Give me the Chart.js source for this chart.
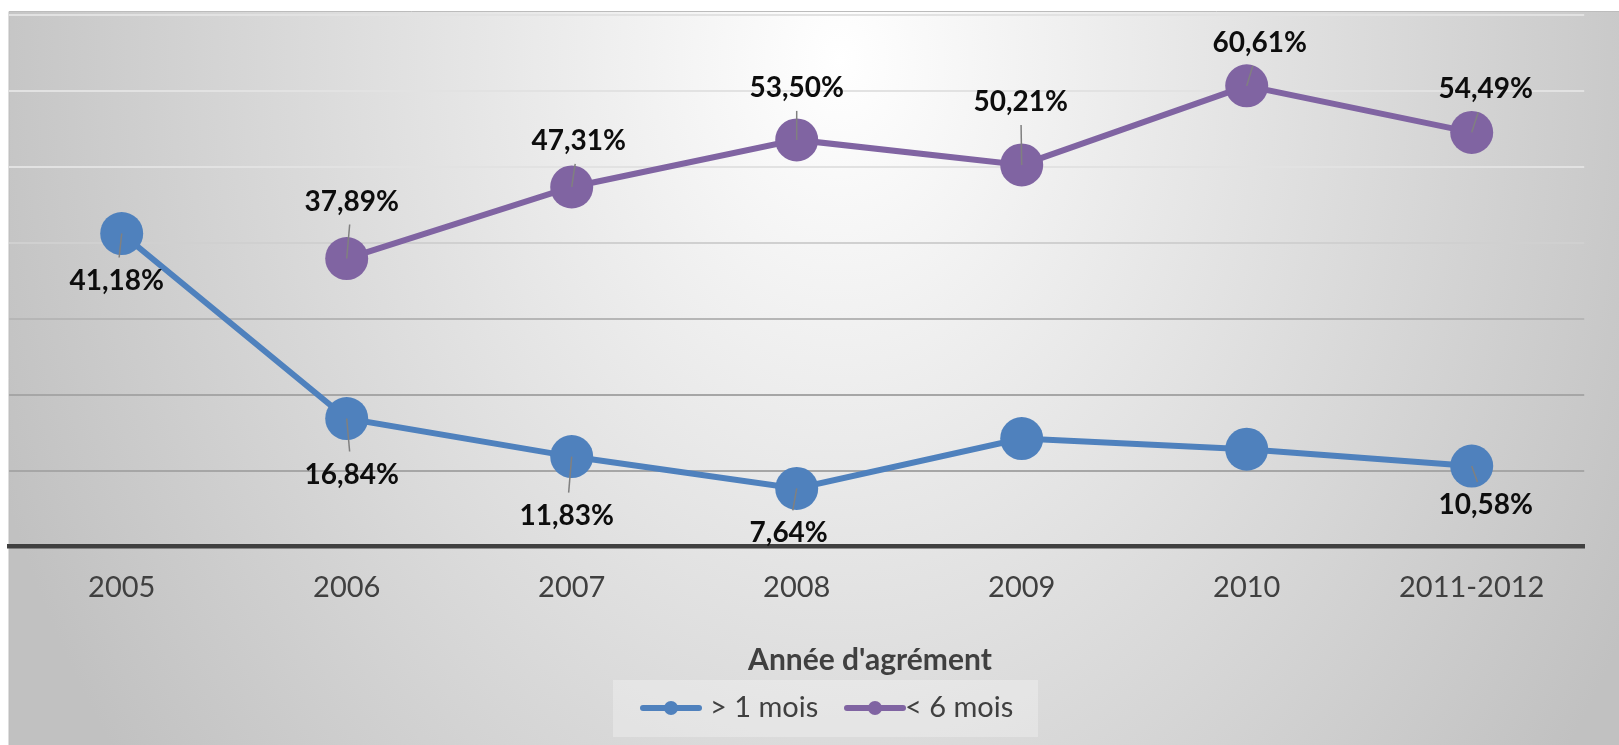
<!DOCTYPE html>
<html>
<head>
<meta charset="utf-8">
<script src="https://cdn.jsdelivr.net/npm/chart.js@4.4.0/dist/chart.umd.min.js"></script>
<style>
html,body{margin:0;padding:0;background:#fff;}
#wrap{width:1619px;height:745px;position:relative;}
</style>
</head>
<body>
<div id="wrap"><canvas id="c" width="1619" height="745"></canvas></div>
<script>
// ---- data ----
const categories = ['2005', '2006', '2007', '2008', '2009', '2010', '2011-2012'];
const seriesNames = ['> 1 mois', '< 6 mois'];
const plusUnMois = [41.18, 16.84, 11.83, 7.64, 14.2, 12.8, 10.58];
const moinsSixMois = [null, 37.89, 47.31, 53.50, 50.21, 60.61, 54.49];
const showLabelPlusUn = [true, true, true, true, false, false, true];
const showLabelMoinsSix = [false, true, true, true, true, true, true];
const yTickValues = [0, 10, 20, 30, 40, 50, 60, 70];
const xAxisTitle = "Année d'agrément";

// ---- style ----
const BLUE = '#4f81bd';
const PURPLE = '#8064a2';
const TEXT = '#404040';
// label placement relative to each point (dx, dy) in px
const labelOffsets = [
  [[-5, 47], [5, 56], [-5, 59], [-8, 45], null, null, [14, 39]],
  [null, [5, -57], [7, -46], [0, -52], [-1, -63], [13, -43], [14, -43]]
];

function fmt(v) { return v.toFixed(2).replace('.', ',') + '%'; }

const bgPlugin = {
  id: 'bg',
  beforeDraw(chart) {
    const ctx = chart.ctx, W = chart.width, H = chart.height;
    ctx.save();
    ctx.fillStyle = '#ffffff';
    ctx.fillRect(0, 0, W, H);
    ctx.beginPath(); ctx.rect(9, 11, W - 9, H - 11); ctx.clip();
    ctx.translate(840, 60); ctx.scale(1, 1.3);
    const g = ctx.createRadialGradient(0, 0, 0, 0, 0, 900);
    g.addColorStop(0, '#ffffff');
    g.addColorStop(1, '#c1c1c1');
    ctx.fillStyle = g;
    ctx.fillRect(-1000, -100, 2200, 1000);
    ctx.restore();
    ctx.save();
    ctx.strokeStyle = '#bcbcbc'; ctx.lineWidth = 1;
    ctx.beginPath(); ctx.moveTo(9, H); ctx.lineTo(9, 11.5); ctx.lineTo(W, 11.5); ctx.stroke();
    ctx.restore();
  }
};

const labelPlugin = {
  id: 'ptlabels',
  afterDatasetsDraw(chart) {
    const ctx = chart.ctx;
    const flags = [showLabelPlusUn, showLabelMoinsSix];
    chart.data.datasets.forEach((ds, di) => {
      const meta = chart.getDatasetMeta(di);
      meta.data.forEach((pt, i) => {
        const v = ds.data[i];
        if (v == null || !flags[di][i]) return;
        const off = labelOffsets[di][i];
        const lx = pt.x + off[0], ly = pt.y + off[1];
        const dist = Math.abs(off[1]);
        const f = Math.min(1, 23 / dist);
        const ex = lx + (pt.x - lx) * f, ey = ly + (pt.y - ly) * f;
        ctx.save();
        ctx.strokeStyle = '#808080'; ctx.lineWidth = 1.5;
        ctx.beginPath(); ctx.moveTo(pt.x, pt.y); ctx.lineTo(ex, ey); ctx.stroke();
        ctx.fillStyle = '#0d0d0d';
        ctx.font = 'bold 28px Lato';
        ctx.textAlign = 'center'; ctx.textBaseline = 'middle';
        ctx.fillText(fmt(v), lx, ly);
        ctx.restore();
      });
    });
  }
};

const legendPlugin = {
  id: 'customLegend',
  afterDraw(chart) {
    const ctx = chart.ctx;
    ctx.save();
    // axis title
    ctx.fillStyle = TEXT; ctx.font = 'bold 30px Lato';
    ctx.textAlign = 'center'; ctx.textBaseline = 'middle';
    ctx.fillText(xAxisTitle, 870, 660);
    // legend box
    ctx.fillStyle = 'rgba(255,255,255,0.28)';
    ctx.fillRect(613, 680, 425, 57);
    const items = [{x: 643}, {x: 847}];
    chart.data.datasets.forEach((ds, i) => {
      const x0 = items[i].x, y = 708;
      ctx.strokeStyle = ds.borderColor; ctx.lineWidth = 6; ctx.lineCap = 'round';
      ctx.beginPath(); ctx.moveTo(x0, y); ctx.lineTo(x0 + 56, y); ctx.stroke();
      ctx.fillStyle = ds.backgroundColor;
      ctx.beginPath(); ctx.arc(x0 + 28, y, 7, 0, Math.PI * 2); ctx.fill();
      ctx.fillStyle = TEXT; ctx.font = '29px Lato';
      ctx.textAlign = 'left'; ctx.textBaseline = 'middle';
      ctx.fillText(ds.label, x0 + (i === 0 ? 67 : 58), y);
    });
    ctx.restore();
  }
};

function gridColor(v) {
  if (v === 0) return '#404040';
  if (v >= 50) return '#e2e2e2';
  if (v === 40) return '#d0d0d0';
  if (v === 30) return '#b6b6b6';
  return '#a6a6a6';
}

new Chart(document.getElementById('c'), {
  type: 'line',
  data: {
    labels: categories,
    datasets: [
      { label: seriesNames[0], data: plusUnMois, borderColor: BLUE, backgroundColor: BLUE,
        borderWidth: 6, pointRadius: 21.5, pointHoverRadius: 21.5, pointBorderWidth: 0, tension: 0 },
      { label: seriesNames[1], data: moinsSixMois, borderColor: PURPLE, backgroundColor: PURPLE,
        borderWidth: 6, pointRadius: 21.5, pointHoverRadius: 21.5, pointBorderWidth: 0, tension: 0 }
    ]
  },
  options: {
    responsive: false,
    animation: false,
    events: [],
    layout: { autoPadding: false, padding: { left: 9.2, right: 34.8, top: 14.5, bottom: 0 } },
    plugins: { legend: { display: false }, tooltip: { enabled: false } },
    scales: {
      x: {
        offset: true,
        grid: { display: false, drawTicks: false },
        border: { display: true, color: '#404040', width: 4.5 },
        ticks: { color: TEXT, font: { family: 'Lato', size: 29 }, padding: 24, maxRotation: 0 },
        title: { display: false },
        afterFit(s) { s.height = 198.5; s.paddingLeft = 0; s.paddingRight = 0; }
      },
      y: {
        min: 0, max: 70,
        afterBuildTicks(s) { s.ticks = yTickValues.map(v => ({ value: v })); },
        ticks: { display: false },
        grid: { drawTicks: false, lineWidth: 2, color: c => gridColor(c.tick.value) },
        border: { display: false },
        afterFit(s) { s.width = 0; s.paddingTop = 0; s.paddingBottom = 0; }
      }
    }
  },
  plugins: [bgPlugin, labelPlugin, legendPlugin]
});
</script>
</body>
</html>
